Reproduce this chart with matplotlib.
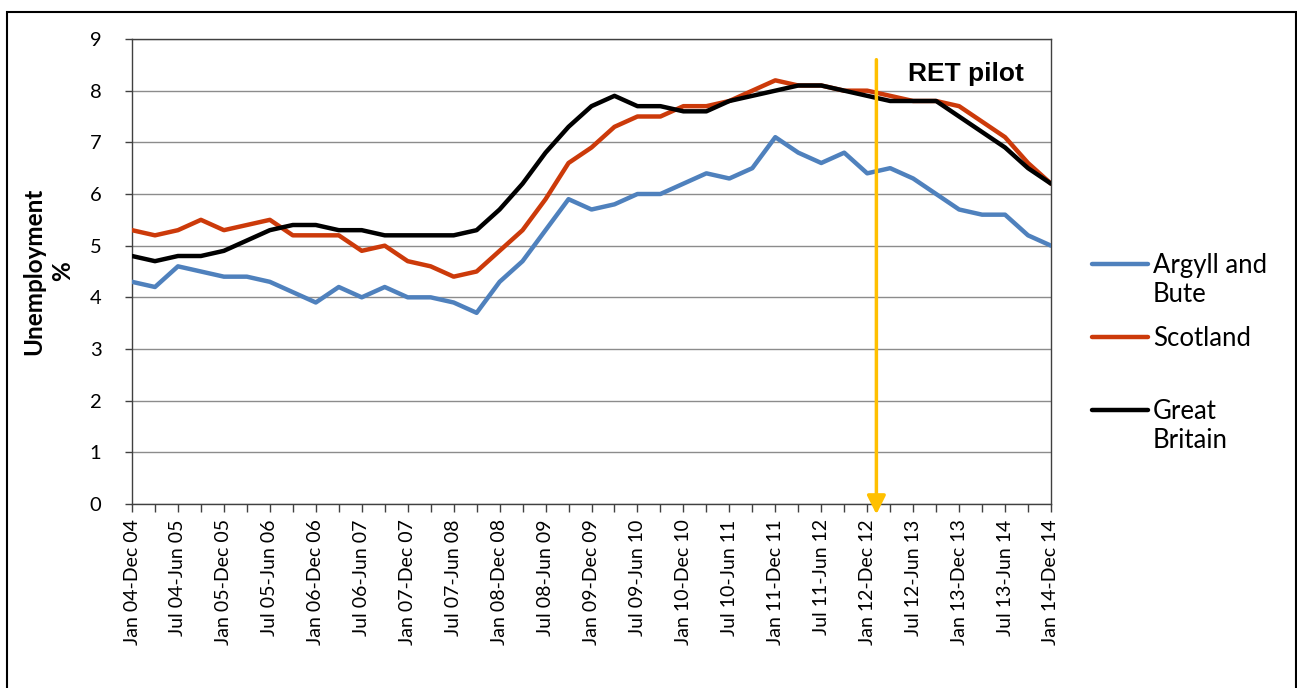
import matplotlib.pyplot as plt
from matplotlib.lines import Line2D
from matplotlib.patches import Rectangle


# 季度滚动年度失业率（%），每个点相隔 3 个月
ARGYLL_AND_BUTE = [
    4.3, 4.2, 4.6, 4.5, 4.4, 4.4, 4.3, 4.1, 3.9, 4.2, 4.0, 4.2, 4.0, 4.0,
    3.9, 3.7, 4.3, 4.7, 5.3, 5.9, 5.7, 5.8, 6.0, 6.0, 6.2, 6.4, 6.3, 6.5,
    7.1, 6.8, 6.6, 6.8, 6.4, 6.5, 6.3, 6.0, 5.7, 5.6, 5.6, 5.2, 5.0,
]
SCOTLAND = [
    5.3, 5.2, 5.3, 5.5, 5.3, 5.4, 5.5, 5.2, 5.2, 5.2, 4.9, 5.0, 4.7, 4.6,
    4.4, 4.5, 4.9, 5.3, 5.9, 6.6, 6.9, 7.3, 7.5, 7.5, 7.7, 7.7, 7.8, 8.0,
    8.2, 8.1, 8.1, 8.0, 8.0, 7.9, 7.8, 7.8, 7.7, 7.4, 7.1, 6.6, 6.2,
]
GREAT_BRITAIN = [
    4.8, 4.7, 4.8, 4.8, 4.9, 5.1, 5.3, 5.4, 5.4, 5.3, 5.3, 5.2, 5.2, 5.2,
    5.2, 5.3, 5.7, 6.2, 6.8, 7.3, 7.7, 7.9, 7.7, 7.7, 7.6, 7.6, 7.8, 7.9,
    8.0, 8.1, 8.1, 8.0, 7.9, 7.8, 7.8, 7.8, 7.5, 7.2, 6.9, 6.5, 6.2,
]

# 只显示每隔一个季度的标签
TICK_LABELS = [
    "Jan 04-Dec 04", "Jul 04-Jun 05", "Jan 05-Dec 05", "Jul 05-Jun 06",
    "Jan 06-Dec 06", "Jul 06-Jun 07", "Jan 07-Dec 07", "Jul 07-Jun 08",
    "Jan 08-Dec 08", "Jul 08-Jun 09", "Jan 09-Dec 09", "Jul 09-Jun 10",
    "Jan 10-Dec 10", "Jul 10-Jun 11", "Jan 11-Dec 11", "Jul 11-Jun 12",
    "Jan 12-Dec 12", "Jul 12-Jun 13", "Jan 13-Dec 13", "Jul 13-Jun 14",
    "Jan 14-Dec 14",
]

SERIES_NAMES = ["Argyll and\nBute", "Scotland", "Great\nBritain"]
SERIES_COLORS = ["#4F81BD", "#CC3A0A", "#000000"]

RET_PILOT_START = 32.4  # 箭头位置（季度索引）
ARROW_COLOR = "#FFC000"

FONT = "Lato"
FIG_W, FIG_H = 1297, 688


def px_x(x):
    return x / FIG_W


def px_y(y):
    return 1 - y / FIG_H


def plot_chart(output_path):
    fig = plt.figure(figsize=(FIG_W / 100, FIG_H / 100), dpi=100)
    ax = fig.add_axes([px_x(132), px_y(504), px_x(1051) - px_x(132), px_y(39) - px_y(504)])

    positions = list(range(len(ARGYLL_AND_BUTE)))
    all_series = [ARGYLL_AND_BUTE, SCOTLAND, GREAT_BRITAIN]
    for values, color in zip(all_series, SERIES_COLORS):
        ax.plot(positions, values, color=color, linewidth=3.2, solid_capstyle="round",
                solid_joinstyle="round", zorder=3)

    ax.set_xlim(0, len(positions) - 1)
    ax.set_ylim(0, 9)
    ax.set_yticks(range(10))
    ax.grid(axis="y", color="#8C8C8C", linewidth=1)
    ax.set_axisbelow(True)

    ax.set_xticks(positions, minor=True)
    ax.set_xticks(positions[::2])
    ax.set_xticklabels(TICK_LABELS, rotation=90, fontfamily=FONT, fontsize=14)
    ax.tick_params(axis="x", which="both", direction="out", length=6, width=1,
                   color="#404040", pad=5)
    ax.tick_params(axis="y", direction="out", length=5, width=1, color="#404040",
                   pad=17, labelsize=14.5)
    for label in ax.get_yticklabels():
        label.set_fontfamily(FONT)

    for spine in ax.spines.values():
        spine.set_color("#404040")
        spine.set_linewidth(1)

    # RET pilot 开始时间的黄色箭头
    ax.annotate("", xy=(RET_PILOT_START, -0.2), xytext=(RET_PILOT_START, 8.6),
                arrowprops=dict(arrowstyle="-|>", color=ARROW_COLOR, lw=2.5,
                                mutation_scale=28, shrinkA=0, shrinkB=0),
                annotation_clip=False, zorder=5)
    ax.text(33.77, 8.32, "RET pilot", fontfamily="Liberation Sans", fontweight="bold",
            fontsize=19, ha="left", va="center")

    fig.text(px_x(48), px_y(271), "Unemployment\n%", rotation=90, ha="center",
             va="center", multialignment="center", fontfamily=FONT,
             fontweight="bold", fontsize=17.5, linespacing=1.3)

    # 图例：线段对齐每项的第一行文字
    legend_rows = [264, 337, 410]
    for name, color, y in zip(SERIES_NAMES, SERIES_COLORS, legend_rows):
        fig.add_artist(Line2D([px_x(1092), px_x(1148)], [px_y(y), px_y(y)],
                              color=color, linewidth=3.2, solid_capstyle="round"))
        fig.text(px_x(1153), px_y(y - 11), name, ha="left", va="top",
                 fontfamily=FONT, fontsize=18.5, linespacing=1.2)

    fig.add_artist(Rectangle((px_x(7), -0.02), px_x(1296) - px_x(7), px_y(12) + 0.02,
                             transform=fig.transFigure, fill=False,
                             edgecolor="#000000", linewidth=1.5))

    fig.savefig(output_path, dpi=100)
    plt.close(fig)


def main():
    plot_chart("out.png")


if __name__ == "__main__":
    main()
